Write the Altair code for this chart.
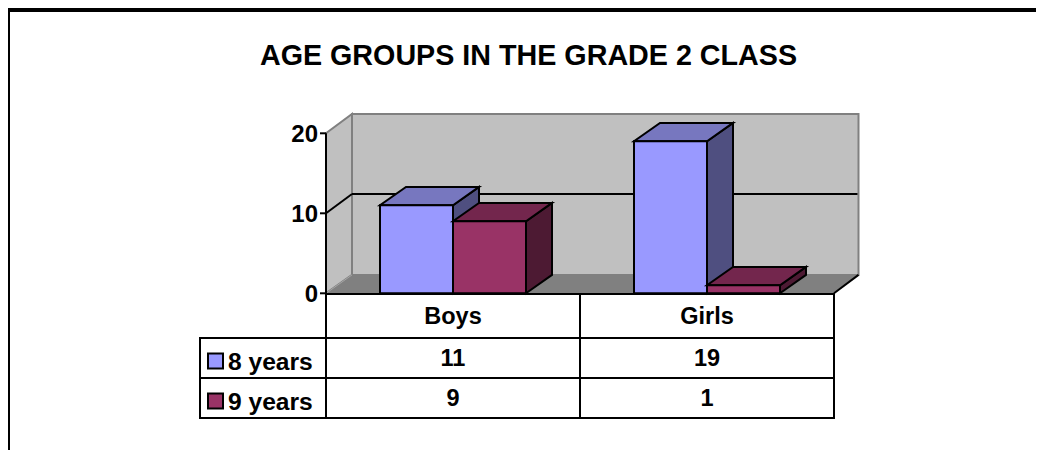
import altair as alt
import pandas as pd

title_text = "AGE GROUPS IN THE GRADE 2 CLASS"
categories = ["Boys", "Girls"]
series_names = ["8 years", "9 years"]
eight_years = [11, 19]
nine_years = [9, 1]
y_ticks = [0, 10, 20]

FONT = "Liberation Sans"
W, H = 1028, 442
PXX = 254.0   # pixels per category
PXY = 8.0     # pixels per unit of value
X0, Y0 = 326.0, 293.3  # page position of the chart origin
GAP = 54.0 / PXX
BAR = 73.0 / PXX
DX = 26.0 / PXX
DX_R = 24.5 / PXX
DY = 2.3
DY_WALL = 2.42

xscale = alt.Scale(domain=[(8 - X0) / PXX, (8 + W - X0) / PXX], range=[0, W], nice=False, zero=False)
yscale = alt.Scale(domain=[(Y0 - 8 - H) / PXY, (Y0 - 8) / PXY], range=[H, 0], nice=False, zero=False)

COLORS = {
    "8 years": ("#9999FF", "#7777BF", "#4F4F80"),
    "9 years": ("#993366", "#73264D", "#4D1A33"),
}


def area(points, fill, stroke=None, width=2):
    df = pd.DataFrame(points, columns=["x", "lo", "hi"])
    kw = dict(fill=fill, opacity=1, clip=False)
    if stroke:
        kw.update(stroke=stroke, strokeWidth=width, strokeJoin="miter")
    return alt.Chart(df).mark_area(**kw).encode(
        x=alt.X("x:Q", scale=xscale, axis=None),
        y=alt.Y("lo:Q", scale=yscale, axis=None),
        y2="hi:Q",
    )


def line(x1, y1, x2, y2, color="#000000", width=2):
    df = pd.DataFrame([{"x": x1, "y": y1, "x2": x2, "y2": y2}])
    return alt.Chart(df).mark_rule(color=color, strokeWidth=width).encode(
        x=alt.X("x:Q", scale=xscale, axis=None),
        x2="x2:Q",
        y=alt.Y("y:Q", scale=yscale, axis=None),
        y2="y2:Q",
    )


def page_line(x1, y1, x2, y2, color="#000000", width=2):
    return alt.Chart(alt.Data(values=[{}])).mark_rule(color=color, strokeWidth=width).encode(
        x=alt.value(x1 - 8), x2=alt.value(x2 - 8), y=alt.value(y1 - 8), y2=alt.value(y2 - 8)
    )


layers = []

# walls and floor
layers.append(area([(0, 0, 20 + 0), (DX, DY, 20 + DY_WALL)], "#C0C0C0", "#808080"))
layers.append(area([(DX, DY, 20 + DY_WALL), (2 + DX_R, DY, 20 + DY_WALL)], "#C0C0C0", "#808080"))
layers.append(area([(0, 0, 0), (DX, 0, DY), (2, 0, DY), (2 + DX_R, DY, DY)], "#808080"))
layers.append(line(0, 0, DX, DY, "#A6A6A6", 1))
layers.append(line(2, 0, 2 + DX_R, DY))

# gridline at 10
layers.append(line(0, 10, DX, 10 + DY_WALL))
layers.append(line(DX, 10 + DY_WALL, 2 + DX_R - 0.004, 10 + DY_WALL))

# bars, with their faces computed from the values
for ci in range(len(categories)):
    for si, (name, vals) in enumerate(zip(series_names, [eight_years, nine_years])):
        v = vals[ci]
        x0 = ci + GAP + si * BAR
        x1 = x0 + BAR
        front, top, side = COLORS[name]
        layers.append(area([(x1, 0, v), (x1 + DX, DY, v + DY)], side, "#000000"))
        layers.append(area([(x0, v, v), (x0 + DX, v, v + DY), (x1, v, v + DY), (x1 + DX, v + DY, v + DY)], top, "#000000"))
        df = pd.DataFrame([{"x": x0, "x2": x1, "y": v, "y2": 0}])
        layers.append(alt.Chart(df).mark_rect(fill=front, stroke="#000000", strokeWidth=2).encode(
            x=alt.X("x:Q", scale=xscale, axis=None), x2="x2:Q",
            y=alt.Y("y:Q", scale=yscale, axis=None), y2="y2:Q",
        ))

# value axis: line, ticks and labels, placed by the value scale
layers.append(line(0, 0, 0, 20))
ticks = pd.DataFrame({"v": y_ticks, "label": [str(v) for v in y_ticks]})
layers.append(alt.Chart(ticks).mark_rule(color="#000000", strokeWidth=2).encode(
    x=alt.value(320 - 8), x2=alt.value(326 - 8),
    y=alt.Y("v:Q", scale=yscale, axis=None),
))
layers.append(alt.Chart(ticks).mark_text(
    font=FONT, fontWeight="bold", fontSize=24, color="#000000", align="right", baseline="middle", dy=1.5
).encode(
    x=alt.value(318 - 8),
    y=alt.Y("v:Q", scale=yscale, axis=None),
    text="label:N",
))

# data table
for (a, b, c, d) in [
    (326, 294, 834, 294), (200, 338, 834, 338), (200, 378, 834, 378), (200, 418, 834, 418),
    (200, 337, 200, 419), (326, 293, 326, 419), (580, 293, 580, 419), (834, 293, 834, 419),
]:
    layers.append(page_line(a, b, c, d))

table = pd.DataFrame({
    "x": [i + 0.5 for i in range(len(categories))],
    "cat": categories,
    "a": [str(v) for v in eight_years],
    "b": [str(v) for v in nine_years],
})


def cell(field, page_y):
    return alt.Chart(table).mark_text(
        font=FONT, fontWeight="bold", fontSize=23.5, color="#000000", align="center", baseline="middle"
    ).encode(x=alt.X("x:Q", scale=xscale, axis=None), y=alt.value(page_y - 8), text=f"{field}:N")


layers += [cell("cat", 317), cell("a", 359), cell("b", 399)]

for name, py in zip(series_names, [361, 401]):
    row = pd.DataFrame({"name": [name]})
    layers.append(alt.Chart(row).mark_square(size=225, fill=COLORS[name][0], stroke="#000000",
                                             strokeWidth=2, opacity=1).encode(
        x=alt.value(215.5 - 8), y=alt.value(py - 8)))
    layers.append(alt.Chart(row).mark_text(font=FONT, fontWeight="bold", fontSize=24.6, color="#000000",
                                           align="left", baseline="middle").encode(
        x=alt.value(228 - 8), y=alt.value(py + 2 - 8), text="name:N"))

# title
layers.append(alt.Chart(pd.DataFrame({"t": [title_text]})).mark_text(
    font=FONT, fontWeight="bold", fontSize=28.7, color="#000000", align="center", baseline="middle"
).encode(x=alt.value(528.5 - 8), y=alt.value(56 - 8), text="t:N"))

# outer frame
layers.append(page_line(8, 10, 1036, 10, width=4))
layers.append(page_line(9, 8, 9, 450, width=2))

chart = alt.layer(*layers).properties(
    width=W, height=H, padding=0,
    autosize=alt.AutoSizeParams(type="none"),
    background="#FFFFFF",
).configure_view(stroke=None)

chart.save("out.html", embed_options={"renderer": "svg", "actions": False})
